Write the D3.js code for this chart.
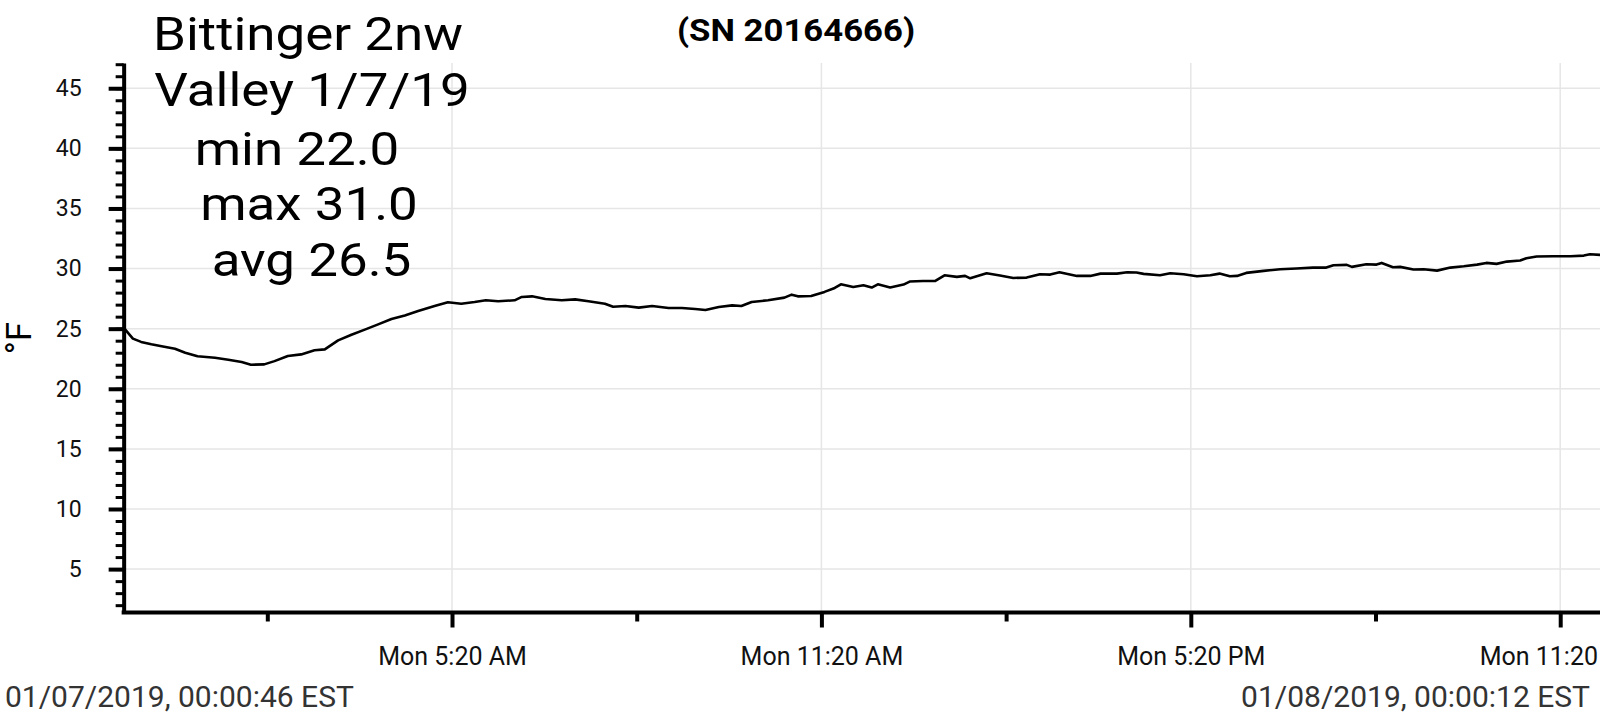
<!DOCTYPE html>
<html>
<head>
<meta charset="utf-8">
<script src="https://cdn.jsdelivr.net/npm/d3@7"></script>
<style>
  html, body { margin: 0; padding: 0; background: #fff; overflow: hidden; }
  svg { display: block; font-family: Roboto, "Noto Sans", sans-serif; }
</style>
</head>
<body>
<svg id="chart" width="1600" height="728"></svg>
<script>
// ---------------- data ----------------
const seriesDate = "2019-01-07";
const times = [
  "00:00:46","00:09:00","00:17:00","00:27:00","00:37:00","00:50:00","01:00:00","01:12:00",
  "01:29:00","01:42:00","01:55:00","02:04:00","02:17:00","02:27:00","02:40:00","02:53:00",
  "03:06:00","03:16:00","03:29:00","03:42:00","03:55:00","04:08:00","04:21:00","04:34:00",
  "04:47:00","05:03:00","05:16:00","05:29:00","05:42:00","05:53:00","06:05:00","06:21:00",
  "06:28:00","06:38:00","06:51:00","07:07:00","07:20:00","07:33:00","07:49:00","07:57:00",
  "08:09:00","08:22:00","08:35:00","08:51:00","09:04:00","09:17:00","09:27:00","09:40:00",
  "09:53:00","10:02:00","10:12:00","10:28:00","10:44:00","10:51:00","10:57:00","11:10:00",
  "11:23:00","11:33:00","11:39:00","11:51:00","12:01:00","12:09:00","12:15:00","12:27:00",
  "12:40:00","12:46:00","12:59:00","13:11:00","13:20:00","13:32:00","13:40:00","13:45:00",
  "14:01:00","14:14:00","14:27:00","14:40:00","14:53:00","15:03:00","15:12:00","15:29:00",
  "15:42:00","15:52:00","16:08:00","16:18:00","16:27:00","16:34:00","16:50:00","17:00:00",
  "17:13:00","17:26:00","17:39:00","17:48:00","17:58:00","18:05:00","18:14:00","18:31:00",
  "18:47:00","19:03:00","19:19:00","19:32:00","19:39:00","19:52:00","19:57:00","20:11:00",
  "20:21:00","20:26:00","20:37:00","20:44:00","20:57:00","21:07:00","21:20:00","21:33:00",
  "21:46:00","21:59:00","22:08:00","22:18:00","22:28:00","22:41:00","22:47:00","22:57:00",
  "23:13:00","23:30:00","23:43:00","23:49:00","23:59:00","24:00:12"
];
const tempsF = [
  25.0,24.17,23.9,23.7,23.53,23.33,23.0,22.7,
  22.58,22.42,22.22,22.0,22.03,22.3,22.72,22.86,
  23.2,23.28,24.03,24.5,24.92,25.36,25.8,26.1,
  26.47,26.89,27.2,27.08,27.22,27.36,27.28,27.36,
  27.64,27.69,27.47,27.36,27.44,27.28,27.08,26.83,
  26.89,26.75,26.89,26.72,26.72,26.64,26.56,26.8,
  26.94,26.89,27.22,27.36,27.58,27.83,27.69,27.72,
  28.06,28.39,28.69,28.47,28.61,28.42,28.69,28.42,
  28.67,28.92,28.97,28.97,29.44,29.31,29.39,29.19,
  29.61,29.42,29.22,29.25,29.53,29.5,29.69,29.39,
  29.39,29.58,29.58,29.69,29.67,29.56,29.44,29.61,
  29.53,29.36,29.44,29.58,29.36,29.39,29.64,29.81,
  29.94,30.0,30.08,30.08,30.28,30.31,30.14,30.36,
  30.33,30.47,30.11,30.14,29.92,29.94,29.83,30.08,
  30.19,30.33,30.47,30.39,30.58,30.67,30.86,31.0,
  31.03,31.03,31.08,31.19,31.14,31.14
];
const yMajorTicks = [5,10,15,20,25,30,35,40,45];
const yMinorTicks = d3.range(2, 48, 1);
const xMajorTicks = ["05:20","11:20","17:20","23:20"];
const xMinorTicks = ["02:20","08:20","14:20","20:20"];
const titleLines = ["Bittinger 2nw","Valley 1/7/19","min 22.0","max 31.0","avg 26.5"];
const serialText = "(SN 20164666)";
const unitLabel = "°F";
const startLabel = "01/07/2019, 00:00:46 EST";
const endLabel = "01/08/2019, 00:00:12 EST";
const yDomain = [1.39, 47.1];

// ---------------- helpers ----------------
const base = new Date(seriesDate + "T00:00:00");
function toDate(s) {
  const p = s.split(":").map(Number);
  return new Date(base.getTime() + ((p[0]*60 + p[1])*60 + (p[2]||0))*1000);
}
const data = times.map((t, i) => ({ t: toDate(t), v: tempsF[i] }));

// ---------------- layout ----------------
const W = 1600, H = 728;
const plotLeft = 123.65, plotBottom = 612.5, plotTop = 63;
const pxPerHour = 61.567;
const svg = d3.select("#chart");

const x = d3.scaleTime()
  .domain([base, new Date(base.getTime() + 24*3600*1000)])
  .range([plotLeft, plotLeft + 24*pxPerHour]);
const y = d3.scaleLinear().domain(yDomain).range([plotBottom, plotTop]);

const gridColor = "#e6e6e6";

// horizontal gridlines
svg.append("g").selectAll("line").data(yMajorTicks).join("line")
  .attr("x1", plotLeft).attr("x2", W)
  .attr("y1", d => y(d)).attr("y2", d => y(d))
  .attr("stroke", gridColor).attr("stroke-width", 1.5);

// vertical gridlines
svg.append("g").selectAll("line").data(xMajorTicks.map(toDate)).join("line")
  .attr("x1", d => x(d)).attr("x2", d => x(d))
  .attr("y1", plotTop).attr("y2", plotBottom)
  .attr("stroke", gridColor).attr("stroke-width", 1.5);

// line
svg.append("path").datum(data)
  .attr("fill", "none").attr("stroke", "#000").attr("stroke-width", 2.6)
  .attr("stroke-linejoin", "round")
  .attr("d", d3.line().x(d => x(d.t)).y(d => y(d.v)));

// y axis minor
const yMinor = svg.append("g").attr("transform", `translate(${plotLeft},0)`)
  .call(d3.axisLeft(y).tickValues(yMinorTicks).tickSize(8).tickFormat(""));
yMinor.select(".domain").remove();
yMinor.selectAll(".tick line").attr("stroke", "#000").attr("stroke-width", 3);

// y axis major
const yMajor = svg.append("g").attr("transform", `translate(${plotLeft},0)`)
  .call(d3.axisLeft(y).tickValues(yMajorTicks).tickSize(15).tickPadding(27).tickSizeOuter(0));
yMajor.select(".domain").attr("stroke", "#000").attr("stroke-width", 4);
yMajor.selectAll(".tick line").attr("stroke", "#000").attr("stroke-width", 4);
yMajor.selectAll(".tick text").attr("font-size", 23).attr("fill", "#111")
  .attr("font-family", "Roboto");

// x axis minor
const xMinor = svg.append("g").attr("transform", `translate(0,${plotBottom})`)
  .call(d3.axisBottom(x).tickValues(xMinorTicks.map(toDate)).tickSize(9).tickFormat(""));
xMinor.select(".domain").remove();
xMinor.selectAll(".tick line").attr("stroke", "#000").attr("stroke-width", 4);

// x axis major
const xMajor = svg.append("g").attr("transform", `translate(0,${plotBottom})`)
  .call(d3.axisBottom(x).tickValues(xMajorTicks.map(toDate)).tickSize(15).tickPadding(20)
    .tickSizeOuter(0).tickFormat(d3.timeFormat("%a %-I:%M %p")));
xMajor.select(".domain").attr("stroke", "#000").attr("stroke-width", 4)
  .attr("d", `M${plotLeft - 2},0H${W + 10}`);
xMajor.selectAll(".tick line").attr("stroke", "#000").attr("stroke-width", 4);
xMajor.selectAll(".tick text").attr("font-size", 25).attr("fill", "#111")
  .attr("font-family", "Roboto");

// unit label
svg.append("text").attr("transform", "translate(31,338) rotate(-90)")
  .attr("text-anchor", "middle").attr("font-size", 35).attr("fill", "#000")
  .text(unitLabel);

// title annotation (slightly wide, like the original canvas text)
const titleCx = [308, 312, 297, 309, 311.5];
const titleBase = [50, 106, 165, 220, 276];
svg.append("g").selectAll("text").data(titleLines).join("text")
  .attr("transform", (d, i) => `translate(${titleCx[i]},${titleBase[i]}) scale(1.15,1)`)
  .attr("text-anchor", "middle").attr("font-size", 46).attr("fill", "#000")
  .text(d => d);

// serial number
svg.append("text").attr("transform", "translate(796,41) scale(1.12,1)")
  .attr("text-anchor", "middle").attr("font-size", 31).attr("font-weight", "bold")
  .attr("fill", "#000").text(serialText);

// bottom date labels
svg.append("text").attr("x", 5).attr("y", 707).attr("font-size", 30)
  .attr("fill", "#333").text(startLabel);
svg.append("text").attr("x", 1590).attr("y", 707).attr("text-anchor", "end")
  .attr("font-size", 30).attr("fill", "#333").text(endLabel);
</script>
</body>
</html>
